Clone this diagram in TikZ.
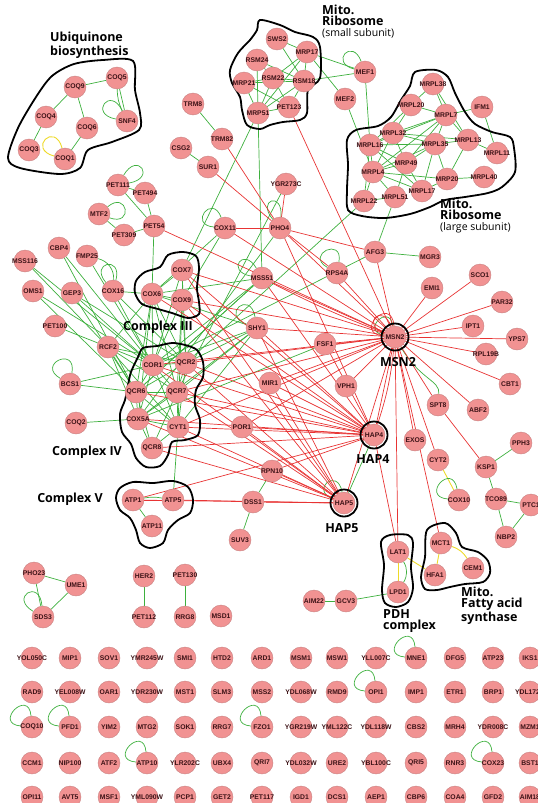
\documentclass[tikz,border=0pt]{standalone}
\usepackage{fontspec}
\newfontfamily\genefam{Liberation Sans}
\newfontfamily\labelfam{Open Sans}
\usetikzlibrary{backgrounds}
\definecolor{genefill}{RGB}{241,146,146}
\definecolor{generim}{RGB}{200,130,130}
\definecolor{genetext}{RGB}{60,18,22}
\definecolor{ppigreen}{RGB}{62,176,62}
\definecolor{tfred}{RGB}{232,52,52}
\definecolor{metyellow}{RGB}{238,218,40}
\tikzset{
  gene/.style={circle, fill=genefill, draw=generim, line width=0.4pt, minimum size=22pt, inner sep=-9pt, text=genetext, font=\genefam\bfseries\fontsize{6.8}{6.8}\selectfont},
  ppi/.style={draw=ppigreen, line width=0.7pt},
  reg/.style={draw=tfred, line width=0.7pt},
  met/.style={draw=metyellow, line width=0.9pt},
  hub/.style={draw=black, line width=1.8pt},
  hull/.style={draw=black, line width=1.8pt},
  grouplabel/.style={font=\labelfam\bfseries\fontsize{12.5}{11}\selectfont, align=left, inner sep=0pt},
  sublabel/.style={font=\labelfam\fontsize{10.5}{9}\selectfont, inner sep=0pt}
}
\begin{document}
\begin{tikzpicture}[x=1pt, y=-1pt]
        \useasboundingbox (0,0) rectangle (538,803);
        % complexes
        \draw[hull] plot[smooth cycle, tension=0.5] coordinates {(133,61) (135,90) (140,113) (139,130) (112,142) (88,150) (80,168) (60,174) (20,168) (8,158) (18,128) (36,97) (52,76) (74,64) (103,60)};
        \draw[hull] plot[smooth cycle, tension=0.5] coordinates {(260,20) (280,25) (295,32) (313,37) (320,47) (320,78) (308,90) (307,113) (300,120) (283,122) (270,125) (260,129) (247,125) (242,110) (240,97) (232,83) (230,70) (238,53) (250,40) (257,30)};
        \draw[hull] plot[smooth cycle, tension=0.5] coordinates {(415,72) (436,70) (448,77) (455,93) (465,112) (475,124) (492,132) (510,137) (514,148) (515,172) (502,187) (488,193) (465,197) (445,200) (430,207) (410,214) (385,218) (362,216) (348,210) (347,190) (348,165) (347,140) (356,130) (378,126) (391,117) (401,100) (410,86)};
        \draw[hull] plot[smooth cycle, tension=0.5] coordinates {(168,255) (183,252) (196,256) (199,268) (197,288) (199,302) (199,314) (188,318) (172,313) (158,309) (142,304) (135,293) (136,281) (145,272) (160,267)};
        \draw[hull] plot[smooth cycle, tension=0.5] coordinates {(143,348) (157,346) (172,343) (185,345) (197,350) (203,362) (203,377) (196,390) (195,405) (200,420) (198,435) (185,440) (172,442) (168,455) (160,466) (146,467) (136,458) (131,444) (122,432) (120,414) (125,400) (128,385) (131,372) (138,357)};
        \draw[hull] plot[smooth cycle, tension=0.5] coordinates {(120,488) (133,482) (153,483) (173,481) (188,487) (193,500) (190,513) (178,520) (168,530) (163,543) (150,548) (140,543) (136,530) (130,518) (120,510) (116,498)};
        \draw[hull] plot[smooth cycle, tension=0.5] coordinates {(381,542) (390,535) (408,535) (413,543) (411,567) (413,588) (408,602) (396,607) (385,603) (382,590) (384,565)};
        \draw[hull] plot[smooth cycle, tension=0.5] coordinates {(427,530) (445,523) (456,533) (462,547) (478,552) (488,561) (490,573) (483,582) (465,584) (450,587) (437,590) (425,589) (421,577) (425,557)};
        % genes
        \node[gene] (COQ5) at (117,78) {COQ5};
        \node[gene] (COQ9) at (75,87) {COQ9};
        \node[gene] (COQ4) at (46,117) {COQ4};
        \node[gene] (COQ6) at (87,128) {COQ6};
        \node[gene] (SNF4) at (127,121) {SNF4};
        \node[gene] (COQ3) at (29,150) {COQ3};
        \node[gene] (COQ1) at (65,159) {COQ1};
        \node[gene] (SWS2) at (277,39) {SWS2};
        \node[gene] (MRP17) at (307,52) {MRP17};
        \node[gene] (RSM24) at (257,60) {RSM24};
        \node[gene] (MRP21) at (244,83) {MRP21};
        \node[gene] (RSM22) at (273,78) {RSM22};
        \node[gene] (RSM18) at (304,81) {RSM18};
        \node[gene] (MRP51) at (258,113) {MRP51};
        \node[gene] (PET123) at (289,107) {PET123};
        \node[gene] (MEF1) at (365,72) {MEF1};
        \node[gene] (MEF2) at (345,99) {MEF2};
        \node[gene] (TRM8) at (193,104) {TRM8};
        \node[gene] (TRM82) at (222,139) {TRM82};
        \node[gene] (CSG2) at (181,148) {CSG2};
        \node[gene] (SUR1) at (208,167) {SUR1};
        \node[gene] (YGR273C) at (286,184) {YGR273C};
        \node[gene] (MRPL38) at (433,84) {MRPL38};
        \node[gene] (IFM1) at (482,107) {IFM1};
        \node[gene] (MRPL20) at (411,105) {MRPL20};
        \node[gene] (MRPL7) at (446,115) {MRPL7};
        \node[gene] (MRPL32) at (393,133) {MRPL32};
        \node[gene] (MRPL16) at (370,145) {MRPL16};
        \node[gene] (MRPL35) at (435,144) {MRPL35};
        \node[gene] (MRPL13) at (468,140) {MRPL13};
        \node[gene] (MRPL11) at (497,153) {MRPL11};
        \node[gene] (MRP49) at (406,163) {MRP49};
        \node[gene] (MRPL4) at (373,172) {MRPL4};
        \node[gene] (MRP20) at (447,179) {MRP20};
        \node[gene] (MRPL40) at (484,177) {MRPL40};
        \node[gene] (MRPL17) at (422,191) {MRPL17};
        \node[gene] (MRPL51) at (395,197) {MRPL51};
        \node[gene] (MRPL22) at (364,201) {MRPL22};
        \node[gene] (PET111) at (118,185) {PET111};
        \node[gene] (PET494) at (145,193) {PET494};
        \node[gene] (MTF2) at (99,214) {MTF2};
        \node[gene] (PET309) at (124,235) {PET309};
        \node[gene] (PET54) at (154,226) {PET54};
        \node[gene] (CBP4) at (59,248) {CBP4};
        \node[gene] (FMP25) at (87,256) {FMP25};
        \node[gene] (MSS116) at (25,261) {MSS116};
        \node[gene] (OMS1) at (33,291) {OMS1};
        \node[gene] (GEP3) at (72,293) {GEP3};
        \node[gene] (COX16) at (113,291) {COX16};
        \node[gene] (PET100) at (55,326) {PET100};
        \node[gene] (RCF2) at (108,347) {RCF2};
        \node[gene] (BCS1) at (70,384) {BCS1};
        \node[gene] (COQ2) at (76,423) {COQ2};
        \node[gene] (COX7) at (182,270) {COX7};
        \node[gene] (COX6) at (152,294) {COX6};
        \node[gene] (COX9) at (182,300) {COX9};
        \node[gene] (COR1) at (153,365) {COR1};
        \node[gene] (QCR2) at (186,363) {QCR2};
        \node[gene] (QCR6) at (136,392) {QCR6};
        \node[gene] (QCR7) at (177,392) {QCR7};
        \node[gene] (COX5A) at (138,419) {COX5A};
        \node[gene] (CYT1) at (178,427) {CYT1};
        \node[gene] (QCR8) at (152,448) {QCR8};
        \node[gene] (COX11) at (225,228) {COX11};
        \node[gene] (PHO4) at (280,228) {PHO4};
        \node[gene] (MSS51) at (262,278) {MSS51};
        \node[gene] (RPS4A) at (337,273) {RPS4A};
        \node[gene] (SHY1) at (257,328) {SHY1};
        \node[gene] (FSF1) at (325,344) {FSF1};
        \node[gene] (MIR1) at (270,383) {MIR1};
        \node[gene] (VPH1) at (346,386) {VPH1};
        \node[gene] (AFG3) at (375,252) {AFG3};
        \node[gene] (MGR3) at (430,257) {MGR3};
        \node[gene] (SCO1) at (480,275) {SCO1};
        \node[gene] (EMI1) at (432,288) {EMI1};
        \node[gene] (PAR32) at (502,302) {PAR32};
        \node[gene] (IPT1) at (473,326) {IPT1};
        \node[gene] (MSN2) at (395,337) {MSN2};
        \node[gene] (YPS7) at (517,339) {YPS7};
        \node[gene] (RPL19B) at (486,354) {RPL19B};
        \node[gene] (CBT1) at (510,384) {CBT1};
        \node[gene] (POR1) at (242,427) {POR1};
        \node[gene] (RPN10) at (272,471) {RPN10};
        \node[gene] (DSS1) at (253,502) {DSS1};
        \node[gene] (HAP5) at (344,503) {HAP5};
        \node[gene] (SUV3) at (240,540) {SUV3};
        \node[gene] (HAP4) at (374,435) {HAP4};
        \node[gene] (SPT8) at (438,405) {SPT8};
        \node[gene] (ABF2) at (478,410) {ABF2};
        \node[gene] (EXOS) at (415,440) {EXOS};
        \node[gene] (PPH3) at (521,443) {PPH3};
        \node[gene] (CYT2) at (438,460) {CYT2};
        \node[gene] (KSP1) at (486,467) {KSP1};
        \node[gene] (COX10) at (459,500) {COX10};
        \node[gene] (TCO89) at (496,499) {TCO89};
        \node[gene] (PTC1) at (531,505) {PTC1};
        \node[gene] (NBP2) at (506,537) {NBP2};
        \node[gene] (ATP1) at (133,500) {ATP1};
        \node[gene] (ATP5) at (173,500) {ATP5};
        \node[gene] (ATP11) at (152,526) {ATP11};
        \node[gene] (MCT1) at (441,543) {MCT1};
        \node[gene] (LAT1) at (398,552) {LAT1};
        \node[gene] (CEM1) at (473,568) {CEM1};
        \node[gene] (HFA1) at (435,575) {HFA1};
        \node[gene] (LPD1) at (398,592) {LPD1};
        \node[gene] (AIM22) at (314,601) {AIM22};
        \node[gene] (GCV3) at (346,601) {GCV3};
        \node[gene] (PHO23) at (34,573) {PHO23};
        \node[gene] (UME1) at (76,585) {UME1};
        \node[gene] (SDS3) at (43,617) {SDS3};
        \node[gene] (HER2) at (144,576) {HER2};
        \node[gene] (PET130) at (185,575) {PET130};
        \node[gene] (PET112) at (144,617) {PET112};
        \node[gene] (RRG8) at (185,617) {RRG8};
        \node[gene] (MSD1) at (221,616) {MSD1};
        % unconnected genes
        \node[gene] (YOL050C) at (32,658) {YOL050C};
        \node[gene] (MIP1) at (70,658) {MIP1};
        \node[gene] (SOV1) at (109,658) {SOV1};
        \node[gene] (YMR245W) at (147,658) {YMR245W};
        \node[gene] (SMI1) at (185,658) {SMI1};
        \node[gene] (HTD2) at (222,658) {HTD2};
        \node[gene] (ARD1) at (262,658) {ARD1};
        \node[gene] (MSM1) at (301,658) {MSM1};
        \node[gene] (MSW1) at (337,658) {MSW1};
        \node[gene] (YLL007C) at (376,658) {YLL007C};
        \node[gene] (MNE1) at (416,658) {MNE1};
        \node[gene] (DFG5) at (455,658) {DFG5};
        \node[gene] (ATP23) at (493,658) {ATP23};
        \node[gene] (IKS1) at (530,658) {IKS1};
        \node[gene] (RAD9) at (32,692) {RAD9};
        \node[gene] (YEL008W) at (70,692) {YEL008W};
        \node[gene] (OAR1) at (109,692) {OAR1};
        \node[gene] (YDR230W) at (147,692) {YDR230W};
        \node[gene] (MST1) at (185,692) {MST1};
        \node[gene] (SLM3) at (222,692) {SLM3};
        \node[gene] (MSS2) at (262,692) {MSS2};
        \node[gene] (YDL068W) at (301,692) {YDL068W};
        \node[gene] (RMD9) at (337,692) {RMD9};
        \node[gene] (OPI1) at (376,692) {OPI1};
        \node[gene] (IMP1) at (416,692) {IMP1};
        \node[gene] (ETR1) at (455,692) {ETR1};
        \node[gene] (BRP1) at (493,692) {BRP1};
        \node[gene] (YDL172C) at (530,692) {YDL172C};
        \node[gene] (COQ10) at (32,727) {COQ10};
        \node[gene] (PFD1) at (70,727) {PFD1};
        \node[gene] (YIM2) at (109,727) {YIM2};
        \node[gene] (MTG2) at (147,727) {MTG2};
        \node[gene] (SOK1) at (185,727) {SOK1};
        \node[gene] (RRG7) at (222,727) {RRG7};
        \node[gene] (FZO1) at (262,727) {FZO1};
        \node[gene] (YGR219W) at (301,727) {YGR219W};
        \node[gene] (YML122C) at (337,727) {YML122C};
        \node[gene] (YDL118W) at (376,727) {YDL118W};
        \node[gene] (CBS2) at (416,727) {CBS2};
        \node[gene] (MRH4) at (455,727) {MRH4};
        \node[gene] (YDR008C) at (493,727) {YDR008C};
        \node[gene] (MZM1) at (530,727) {MZM1};
        \node[gene] (CCM1) at (32,763) {CCM1};
        \node[gene] (NIP100) at (70,763) {NIP100};
        \node[gene] (ATF2) at (109,763) {ATF2};
        \node[gene] (ATP10) at (147,763) {ATP10};
        \node[gene] (YLR202C) at (185,763) {YLR202C};
        \node[gene] (UBX4) at (222,763) {UBX4};
        \node[gene] (QRI7) at (262,763) {QRI7};
        \node[gene] (YDL032W) at (301,763) {YDL032W};
        \node[gene] (URE2) at (337,763) {URE2};
        \node[gene] (YBL100C) at (376,763) {YBL100C};
        \node[gene] (QRI5) at (416,763) {QRI5};
        \node[gene] (RNR3) at (455,763) {RNR3};
        \node[gene] (COX23) at (493,763) {COX23};
        \node[gene] (BST1) at (530,763) {BST1};
        \node[gene] (OPI11) at (32,797) {OPI11};
        \node[gene] (AVT5) at (70,797) {AVT5};
        \node[gene] (MSF1) at (109,797) {MSF1};
        \node[gene] (YML090W) at (147,797) {YML090W};
        \node[gene] (PCP1) at (185,797) {PCP1};
        \node[gene] (GET2) at (222,797) {GET2};
        \node[gene] (PET117) at (262,797) {PET117};
        \node[gene] (IGD1) at (301,797) {IGD1};
        \node[gene] (DCS1) at (337,797) {DCS1};
        \node[gene] (AEP1) at (376,797) {AEP1};
        \node[gene] (CBP6) at (416,797) {CBP6};
        \node[gene] (COA4) at (455,797) {COA4};
        \node[gene] (GFD2) at (493,797) {GFD2};
        \node[gene] (AIM18) at (530,797) {AIM18};
        % transcription factors
        \draw[hub] (MSN2) circle (13.5pt);
        \draw[hub] (HAP4) circle (13.5pt);
        \draw[hub] (HAP5) circle (13.5pt);
        % labels
        \node[grouplabel, anchor=north west] (ubilab) at (50,32) {Ubiquinone\\biosynthesis};
        \node[grouplabel, anchor=north west] (srlab) at (322,5) {Mito.\\Ribosome};
        \node[sublabel, anchor=north west] (srsub) at (322,28) {(small subunit)};
        \node[grouplabel, anchor=north west] (lrlab) at (440,199) {Mito.\\Ribosome};
        \node[sublabel, anchor=north west] (lrsub) at (440,222) {(large subunit)};
        \node[grouplabel] (c3lab) at (158,327) {Complex III};
        \node[grouplabel] (c4lab) at (87,452) {Complex IV};
        \node[grouplabel] (c5lab) at (70,499) {Complex V};
        \node[grouplabel] (msnlab) at (398,362) {MSN2};
        \node[grouplabel] (hap4lab) at (373,459) {HAP4};
        \node[grouplabel] (hap5lab) at (342,528) {HAP5};
        \node[grouplabel, anchor=north west] (pdhlab) at (383,609) {PDH\\complex};
        \node[grouplabel, anchor=north west] (faslab) at (461,587) {Mito.\\Fatty acid\\synthase};
        \begin{pgfonlayer}{background}
        % ubiquinone
        \draw[ppi] (COQ9) -- (COQ5);
        \draw[ppi] (COQ9) -- (COQ4);
        \draw[ppi] (COQ9) -- (COQ6);
        \draw[ppi] (COQ4) -- (COQ3);
        \draw[ppi] (COQ6) -- (COQ1);
        \draw[ppi] (COQ5) -- (SNF4);
        \draw[ppi] (COQ5) to[bend right=12] (SNF4);
        \draw[ppi] (SNF4.170) .. controls +(170:28pt) and +(115:28pt) .. (SNF4.115);
        \draw[met] (COQ1.165) .. controls +(165:28pt) and +(105:28pt) .. (COQ1.105);
        % small subunit
        \draw[ppi] (SWS2) -- (MRP17);
        \draw[ppi] (SWS2) -- (RSM18);
        \draw[ppi] (RSM24) -- (RSM22);
        \draw[ppi] (RSM24) -- (MRP51);
        \draw[ppi] (RSM24) -- (RSM18);
        \draw[ppi] (MRP21) -- (RSM22);
        \draw[ppi] (MRP21) -- (RSM18);
        \draw[ppi] (MRP21) -- (MRP51);
        \draw[ppi] (MRP21) -- (PET123);
        \draw[ppi] (RSM22) -- (RSM18);
        \draw[ppi] (RSM22) -- (MRP51);
        \draw[ppi] (RSM22) -- (PET123);
        \draw[ppi] (RSM18) -- (MRP51);
        \draw[ppi] (RSM18) -- (PET123);
        \draw[ppi] (MRP17) -- (RSM22);
        \draw[ppi] (MRP17) -- (MRP51);
        \draw[ppi] (MRP17) -- (RSM18);
        \draw[ppi] (MRP51) -- (PET123);
        \draw[ppi] (MRP17) -- (MEF1);
        \draw[ppi] (MRP17) -- (MEF2);
        \draw[ppi] (RSM18) -- (MEF1);
        \draw[ppi] (MEF1.165) .. controls +(165:26pt) and +(110:26pt) .. (MEF1.110);
        \draw[ppi] (MEF1) -- (MRPL16);
        \draw[ppi] (MEF2) -- (MRPL4);
        \draw[ppi] (MRP51) -- (MSS51);
        \draw[ppi] (MRP51) -- (COX7);
        \draw[ppi] (TRM8) -- (TRM82);
        \draw[ppi] (CSG2) -- (SUR1);
        % large subunit
        \draw[ppi] (MRPL38) -- (MRPL20);
        \draw[ppi] (MRPL38) -- (MRPL7);
        \draw[ppi] (MRPL38) -- (MRPL13);
        \draw[ppi] (MRPL7) -- (IFM1);
        \draw[ppi] (IFM1) -- (MRPL11);
        \draw[ppi] (MRPL20) -- (MRPL7);
        \draw[ppi] (MRPL20) -- (MRPL32);
        \draw[ppi] (MRPL20) -- (MRPL16);
        \draw[ppi] (MRPL7) -- (MRPL32);
        \draw[ppi] (MRPL7) -- (MRPL35);
        \draw[ppi] (MRPL7) -- (MRPL13);
        \draw[ppi] (MRPL7) -- (MRP49);
        \draw[ppi] (MRPL7) -- (MRPL16);
        \draw[ppi] (MRPL7) -- (MRPL4);
        \draw[ppi] (MRPL32) -- (MRPL16);
        \draw[ppi] (MRPL32) -- (MRPL35);
        \draw[ppi] (MRPL32) -- (MRP49);
        \draw[ppi] (MRPL32) -- (MRPL4);
        \draw[ppi] (MRPL32) -- (MRPL13);
        \draw[ppi] (MRPL16) -- (MRPL35);
        \draw[ppi] (MRPL16) -- (MRP49);
        \draw[ppi] (MRPL16) -- (MRPL4);
        \draw[ppi] (MRPL16) -- (MRPL22);
        \draw[ppi] (MRPL16) -- (MRPL17);
        \draw[ppi] (MRPL35) -- (MRPL13);
        \draw[ppi] (MRPL35) -- (MRP49);
        \draw[ppi] (MRPL35) -- (MRPL17);
        \draw[ppi] (MRPL35) -- (MRP20);
        \draw[ppi] (MRPL35) -- (MRPL4);
        \draw[ppi] (MRPL13) -- (MRPL11);
        \draw[ppi] (MRPL13) -- (MRP20);
        \draw[ppi] (MRP20) -- (MRPL40);
        \draw[ppi] (MRP49) -- (MRPL4);
        \draw[ppi] (MRP49) -- (MRPL17);
        \draw[ppi] (MRP49) -- (MRPL51);
        \draw[ppi] (MRPL4) -- (MRPL17);
        \draw[ppi] (MRPL4) -- (MRPL51);
        \draw[ppi] (MRPL4) -- (MRPL22);
        \draw[ppi] (MRPL4) -- (MRP20);
        \draw[ppi] (MRPL17) -- (MRP20);
        \draw[ppi] (MRPL51) -- (MRPL22);
        \draw[ppi] (AFG3) -- (MRPL51);
        \draw[ppi] (AFG3) -- (MGR3);
        % translational activators
        \draw[ppi] (PET111) -- (PET494);
        \draw[ppi] (PET111) -- (PET54);
        \draw[ppi] (PET494) -- (PET54);
        \draw[ppi] (PET111.60) .. controls +(60:28pt) and +(10:28pt) .. (PET111.10);
        \draw[ppi] (MTF2) -- (PET309);
        \draw[ppi] (MTF2.40) .. controls +(40:26pt) and +(-20:26pt) .. (MTF2.-20);
        \draw[ppi] (PET309) -- (PET54);
        \draw[ppi] (PET54) -- (COX6);
        % assembly factors
        \draw[ppi] (CBP4) -- (COR1);
        \draw[ppi] (CBP4) -- (QCR6);
        \draw[ppi] (FMP25) -- (COR1);
        \draw[ppi] (FMP25) to[bend left=40] (COX16);
        \draw[ppi] (MSS116) -- (RCF2);
        \draw[ppi] (MSS116) -- (COR1);
        \draw[ppi] (OMS1) -- (COR1);
        \draw[ppi] (OMS1) -- (QCR6);
        \draw[ppi] (GEP3) -- (COR1);
        \draw[ppi] (GEP3) -- (QCR2);
        \draw[ppi] (GEP3) -- (QCR6);
        \draw[ppi] (COX16) -- (COR1);
        \draw[ppi] (COX16) -- (COX6);
        \draw[ppi] (COX16) -- (QCR2);
        \draw[ppi] (COX16.130) .. controls +(130:26pt) and +(75:26pt) .. (COX16.75);
        \draw[ppi] (PET100) -- (RCF2);
        \draw[ppi] (RCF2) -- (COR1);
        \draw[ppi] (RCF2) -- (QCR6);
        \draw[ppi] (RCF2) -- (QCR2);
        \draw[ppi] (RCF2) -- (COX6);
        \draw[ppi] (RCF2) -- (COX5A);
        \draw[ppi] (RCF2) -- (QCR7);
        \draw[ppi] (RCF2) -- (CYT1);
        \draw[ppi] (BCS1) -- (QCR6);
        \draw[ppi] (BCS1) -- (COR1);
        \draw[ppi] (BCS1.150) .. controls +(150:28pt) and +(80:28pt) .. (BCS1.80);
        \draw[ppi] (COQ2) -- (COX5A);
        % complex III and IV
        \draw[ppi] (COX7) -- (COX6);
        \draw[ppi] (COX7) -- (COX9);
        \draw[ppi] (COX6) -- (COX9);
        \draw[ppi] (COX6) -- (COR1);
        \draw[ppi] (COX6) -- (QCR2);
        \draw[ppi] (COX6) -- (QCR6);
        \draw[ppi] (COX6) -- (COX5A);
        \draw[ppi] (COX6) -- (QCR7);
        \draw[ppi] (COX7) -- (QCR2);
        \draw[ppi] (COX7) -- (COR1);
        \draw[ppi] (COX9) -- (QCR2);
        \draw[ppi] (COX9) -- (COR1);
        \draw[ppi] (COX9) -- (QCR7);
        \draw[ppi] (COX9) -- (CYT1);
        \draw[ppi] (COR1) -- (QCR2);
        \draw[ppi] (COR1) -- (QCR6);
        \draw[ppi] (COR1) -- (QCR7);
        \draw[ppi] (COR1) -- (COX5A);
        \draw[ppi] (COR1) -- (CYT1);
        \draw[ppi] (QCR2) -- (QCR7);
        \draw[ppi] (QCR2) -- (QCR6);
        \draw[ppi] (QCR2) -- (CYT1);
        \draw[ppi] (QCR6) -- (QCR7);
        \draw[ppi] (QCR6) -- (COX5A);
        \draw[ppi] (QCR6) -- (CYT1);
        \draw[ppi] (QCR7) -- (CYT1);
        \draw[ppi] (QCR7) -- (COX5A);
        \draw[ppi] (COX5A) -- (CYT1);
        \draw[ppi] (COX5A) -- (QCR8);
        \draw[ppi] (CYT1) -- (QCR8);
        \draw[ppi] (QCR6) -- (QCR8);
        \draw[ppi] (QCR7) -- (QCR8);
        \draw[ppi] (SHY1) -- (COX6);
        \draw[ppi] (SHY1) -- (QCR2);
        \draw[ppi] (SHY1) -- (COR1);
        \draw[ppi] (SHY1) -- (COX5A);
        \draw[ppi] (SHY1) -- (CYT1);
        \draw[ppi] (SHY1) -- (QCR7);
        \draw[ppi] (SHY1.160) .. controls +(160:28pt) and +(100:28pt) .. (SHY1.100);
        \draw[ppi] (MSS51) -- (COX6);
        \draw[ppi] (MSS51) -- (COR1);
        \draw[ppi] (MSS51) -- (QCR6);
        \draw[ppi] (MSS51.170) .. controls +(170:26pt) and +(120:26pt) .. (MSS51.120);
        \draw[ppi] (COX11) -- (COX6);
        \draw[ppi] (COX11) -- (COX9);
        \draw[ppi] (COX11.175) .. controls +(175:26pt) and +(110:26pt) .. (COX11.110);
        \draw[ppi] (PHO4.130) .. controls +(130:26pt) and +(85:26pt) .. (PHO4.85);
        \draw[ppi] (RPS4A.150) .. controls +(150:26pt) and +(80:26pt) .. (RPS4A.80);
        \draw[ppi] (QCR7) -- (YGR273C);
        \draw[ppi] (COR1) -- (AFG3);
        \draw[ppi] (QCR2) -- (MRPL22);
        \draw[ppi] (COX5A) -- (PHO4);
        \draw[ppi] (QCR6) -- (MSS51);
        \draw[ppi] (COX5A) -- (FSF1);
        \draw[ppi] (CYT1) -- (ATP5);
        % complex V
        \draw[ppi] (ATP1) -- (ATP11);
        \draw[ppi] (ATP1) to[bend left=10] (ATP5);
        \draw[reg] (ATP1) -- (ATP5);
        % regulators
        \draw[ppi] (HAP4) -- (HAP5);
        \draw[ppi] (HAP5.160) .. controls +(160:26pt) and +(100:26pt) .. (HAP5.100);
        \draw[ppi] (RPN10) -- (DSS1);
        \draw[ppi] (DSS1) -- (SUV3);
        \draw[ppi] (MSN2) .. controls (420,380) and (440,380) .. (SPT8);
        \draw[ppi] (MSN2.170) .. controls +(170:24pt) and +(100:24pt) .. (MSN2.100);
        \draw[reg] (MSN2.175) .. controls +(175:32pt) and +(95:32pt) .. (MSN2.95);
        \draw[reg] (MSN2.160) .. controls +(160:26pt) and +(110:26pt) .. (MSN2.110);
        \draw[reg] (MSN2) -- (AFG3);
        \draw[reg] (MSN2) -- (EMI1);
        \draw[reg] (MSN2) -- (SCO1);
        \draw[reg] (MSN2) -- (PAR32);
        \draw[reg] (MSN2) -- (IPT1);
        \draw[reg] (MSN2) -- (YPS7);
        \draw[reg] (MSN2) -- (RPL19B);
        \draw[reg] (MSN2) -- (CBT1);
        \draw[reg] (MSN2) -- (SPT8);
        \draw[reg] (MSN2) -- (ABF2);
        \draw[reg] (MSN2) -- (EXOS);
        \draw[reg] (MSN2) -- (CYT2);
        \draw[reg] (MSN2) -- (MCT1);
        \draw[reg] (MSN2) -- (LAT1);
        \draw[reg] (MSN2) -- (FSF1);
        \draw[reg] (MSN2) -- (VPH1);
        \draw[reg] (MSN2) -- (MIR1);
        \draw[reg] (MSN2) -- (SHY1);
        \draw[reg] (MSN2) -- (MSS51);
        \draw[reg] (MSN2) to[bend left=3] (MSS51);
        \draw[reg] (MSN2) -- (PHO4);
        \draw[reg] (MSN2) -- (RPS4A);
        \draw[reg] (MSN2) -- (PET123);
        \draw[reg] (MSN2) -- (PET54);
        \draw[reg] (MSN2) -- (COX7);
        \draw[reg] (MSN2) -- (COX9);
        \draw[reg] (MSN2) -- (COR1);
        \draw[reg] (MSN2) -- (QCR2);
        \draw[reg] (MSN2) -- (QCR7);
        \draw[reg] (MSN2) -- (CYT1);
        \draw[reg] (MSN2) -- (POR1);
        \draw[reg] (MSN2) -- (HAP4);
        \draw[reg] (MSN2) to[bend left=6] (HAP4);
        \draw[reg] (MSN2) -- (HAP5);
        \draw[reg] (MSN2) -- (COX11);
        \draw[reg] (HAP4) -- (COR1);
        \draw[reg] (HAP4) -- (QCR2);
        \draw[reg] (HAP4) -- (QCR7);
        \draw[reg] (HAP4) -- (CYT1);
        \draw[reg] (HAP4) -- (COX5A);
        \draw[reg] (HAP4) -- (QCR6);
        \draw[reg] (HAP4) -- (POR1);
        \draw[reg] (HAP4) -- (MIR1);
        \draw[reg] (HAP4) -- (SHY1);
        \draw[reg] (HAP4) -- (COX9);
        \draw[reg] (HAP4) -- (COX7);
        \draw[reg] (HAP4) -- (MSS51);
        \draw[reg] (HAP4) -- (RPN10);
        \draw[reg] (HAP4) -- (FSF1);
        \draw[reg] (HAP4) -- (LAT1);
        \draw[reg] (HAP4) -- (COX6);
        \draw[reg] (HAP4) -- (ATP1);
        \draw[reg] (HAP4) -- (QCR8);
        \draw[reg] (HAP5) -- (POR1);
        \draw[reg] (HAP5) -- (RPN10);
        \draw[reg] (HAP5) -- (DSS1);
        \draw[reg] (HAP5) -- (CYT1);
        \draw[reg] (HAP5) -- (COX5A);
        \draw[reg] (HAP5) -- (ATP1);
        \draw[reg] (HAP5) -- (ATP5);
        \draw[reg] (HAP5) -- (QCR7);
        \draw[reg] (HAP5) -- (MIR1);
        \draw[reg] (HAP5) -- (COR1);
        \draw[reg] (HAP5) -- (QCR2);
        \draw[reg] (HAP5) -- (SHY1);
        \draw[reg] (HAP5) -- (COX9);
        \draw[reg] (HAP5) -- (COX7);
        \draw[reg] (HAP5) -- (QCR8);
        \draw[reg] (PHO4) -- (TRM82);
        \draw[reg] (PHO4) -- (SUR1);
        \draw[reg] (PHO4) -- (YGR273C);
        \draw[reg] (PHO4) -- (COX11);
        \draw[reg] (PHO4) -- (RPS4A);
        \draw[reg] (PHO4) -- (AFG3);
        \draw[reg] (PHO4) -- (HAP4);
        \draw[reg] (SPT8) -- (KSP1);
        % others
        \draw[ppi] (KSP1) -- (PPH3);
        \draw[ppi] (KSP1) -- (TCO89);
        \draw[ppi] (TCO89) -- (PTC1);
        \draw[ppi] (TCO89) -- (NBP2);
        \draw[ppi] (PTC1) -- (NBP2);
        \draw[met] (CYT2) -- (COX10);
        \draw[ppi] (COX10.175) .. controls +(175:28pt) and +(100:28pt) .. (COX10.100);
        \draw[met] (LAT1) -- (LPD1);
        \draw[ppi] (LAT1) to[bend left=30] (LPD1);
        \draw[met] (LAT1) -- (HFA1);
        \draw[met] (MCT1) -- (HFA1);
        \draw[met] (MCT1) to[bend left=20] (CEM1);
        \draw[ppi] (LPD1) -- (GCV3);
        \draw[ppi] (GCV3) -- (AIM22);
        \draw[ppi] (PHO23) -- (UME1);
        \draw[ppi] (PHO23) -- (SDS3);
        \draw[ppi] (UME1) -- (SDS3);
        \draw[ppi] (SDS3.150) .. controls +(150:28pt) and +(95:28pt) .. (SDS3.95);
        \draw[ppi] (HER2) -- (PET112);
        \draw[ppi] (PET130) -- (RRG8);
        \draw[ppi] (MNE1.175) .. controls +(175:28pt) and +(95:28pt) .. (MNE1.95);
        \draw[ppi] (OPI1.175) .. controls +(175:28pt) and +(95:28pt) .. (OPI1.95);
        \draw[ppi] (COQ10.175) .. controls +(175:28pt) and +(95:28pt) .. (COQ10.95);
        \draw[ppi] (PFD1.175) .. controls +(175:28pt) and +(95:28pt) .. (PFD1.95);
        \draw[ppi] (FZO1.175) .. controls +(175:28pt) and +(95:28pt) .. (FZO1.95);
        \draw[ppi] (ATP10.175) .. controls +(175:28pt) and +(95:28pt) .. (ATP10.95);
        \draw[ppi] (COX23.175) .. controls +(175:28pt) and +(95:28pt) .. (COX23.95);
        \end{pgfonlayer}
\end{tikzpicture}
\end{document}
